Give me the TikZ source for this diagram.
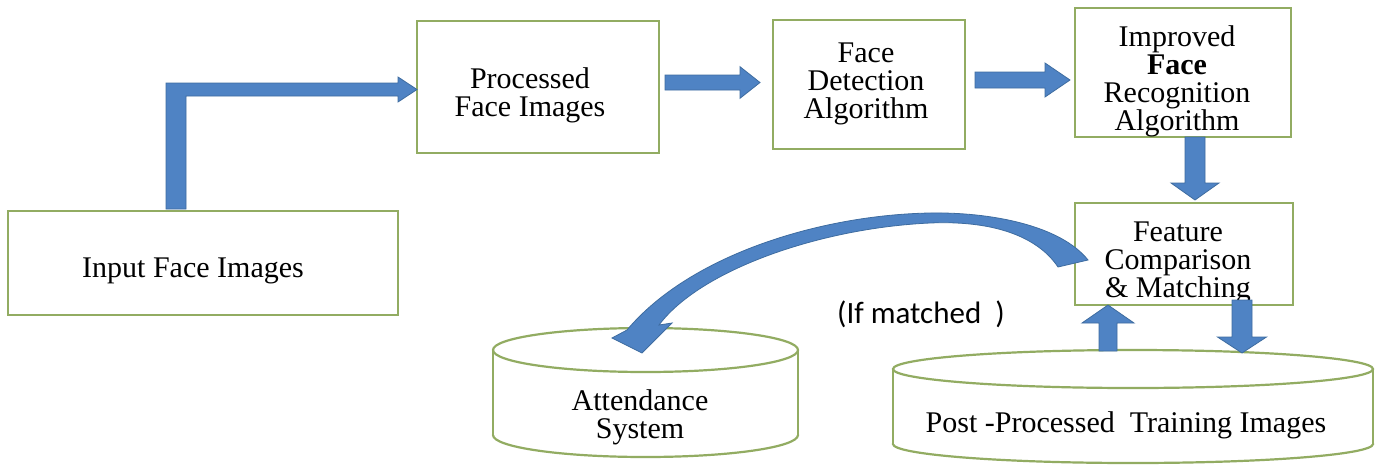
\documentclass[tikz,border=0pt]{standalone}
\usepackage{fontspec}
\setmainfont{Liberation Serif}
\newfontfamily\notefont{Carlito}
\usetikzlibrary{calc}

\definecolor{boxline}{RGB}{146,172,98}
\definecolor{arrowfill}{RGB}{79,131,196}
\definecolor{arrowline}{RGB}{62,108,160}

\tikzset{
  box/.style={draw=boxline, line width=2.4pt, fill=white, inner sep=0pt},
  lbl/.style={align=center, inner sep=0pt, font=\fontsize{30}{28}\selectfont},
  blockarrow/.style={fill=arrowfill, draw=arrowline, line width=0.8pt, line join=miter},
  drum/.style={draw=boxline, line width=2.2pt},
}

% straight block arrow: from, to, shaft half width, head half width, head length
\newcommand\straightarrow[5]{%
  \coordinate (ha) at ($(#2)!#5!(#1)$);
  \path[blockarrow] ($(#1)!#3!90:(#2)$) -- ($(ha)!#3!90:(#2)$) -- ($(ha)!#4!90:(#2)$)
    -- (#2) -- ($(ha)!#4!-90:(#2)$) -- ($(ha)!#3!-90:(#2)$) -- ($(#1)!#3!-90:(#2)$) -- cycle;
}

% database drum: centre x, left x, right x, top y, bottom y, radius y
\newcommand\drumshape[6]{%
  \draw[drum, fill=white] (#1,#5) ellipse [x radius=#1-#2, y radius=#6];
  \fill[white] (#2,#4) rectangle (#3,#5);
  \draw[drum] (#2,#4) -- (#2,#5);
  \draw[drum] (#3,#4) -- (#3,#5);
  \draw[drum, fill=white] (#1,#4) ellipse [x radius=#1-#2, y radius=#6];
}

\begin{document}
\begin{tikzpicture}[x=1pt, y=-1pt]
\useasboundingbox (0,0) rectangle (1382,464);
\fill[white] (0,0) rectangle (1382,464);

% process boxes
\node[box, minimum width=390pt, minimum height=104pt] (ifi) at (203,263) {};
\node[box, minimum width=242pt, minimum height=132pt] (pfi) at (538,87) {};
\node[box, minimum width=192pt, minimum height=129pt] (fda) at (869,84.5) {};
\node[box, minimum width=216pt, minimum height=129pt] (ifr) at (1183,72.5) {};
\node[box, minimum width=218pt, minimum height=102pt] (fcm) at (1184,254) {};

\node[lbl] (ifi-t) at (193,271) {Input Face Images};
\node[lbl] (pfi-t) at (530,95.5) {Processed\\Face Images};
\node[lbl] (fda-t) at (866,84.3) {Face\\Detection\\Algorithm};
\node[lbl] (ifr-t) at (1177,81.3) {Improved\\\textbf{Face}\\Recognition\\Algorithm};
\node[lbl] (fcm-t) at (1178,262.5) {Feature\\Comparison\\\& Matching};

% storage drums
\drumshape{645.5}{493}{798}{350}{435}{22}
\drumshape{1133}{893}{1373}{369}{444}{19}
\node[lbl] (att-t) at (640,417) {Attendance\\System};
\node[lbl] (ptr-t) at (1126,425) {Post -Processed\ \ Training Images};

% condition note
\node[anchor=base west, inner sep=0pt, font=\notefont\fontsize{31}{31}\selectfont] (note) at (837,323) {(If matched\ \ )};

% bent arrow from the input box to the processed images
\path[blockarrow] (166,209) -- (166,83) -- (398,83) -- (398,77) -- (417,89.5)
  -- (398,102) -- (398,96) -- (186,96) -- (186,209) -- cycle;

% straight arrows between the stages
\coordinate (a1s) at (665,82.5);  \coordinate (a1e) at (760,82.5);
\coordinate (a2s) at (975,80);    \coordinate (a2e) at (1070,80);
\coordinate (a3s) at (1195,137);  \coordinate (a3e) at (1195,200);
\coordinate (a4s) at (1108,351);  \coordinate (a4e) at (1108,305);
\coordinate (a5s) at (1242,300);  \coordinate (a5e) at (1242,353);
\straightarrow{a1s}{a1e}{7.5pt}{15.8pt}{20pt}
\straightarrow{a2s}{a2e}{8pt}{17pt}{25pt}
\straightarrow{a3s}{a3e}{10pt}{24pt}{17pt}
\straightarrow{a4s}{a4e}{9pt}{26pt}{18pt}
\straightarrow{a5s}{a5e}{10pt}{24.5pt}{16pt}

% curved arrow from matching to attendance
\path[blockarrow]
  (1088,260) .. controls (1060,225) and (990,212) .. (930,213)
             .. controls (820,215) and (690,255) .. (627,330)
  -- (612,338) -- (642,353) -- (672,323) -- (659,325)
  .. controls (700,270) and (820,228) .. (930,223)
  .. controls (1000,220) and (1040,240) .. (1058,267)
  -- cycle;
\end{tikzpicture}
\end{document}
